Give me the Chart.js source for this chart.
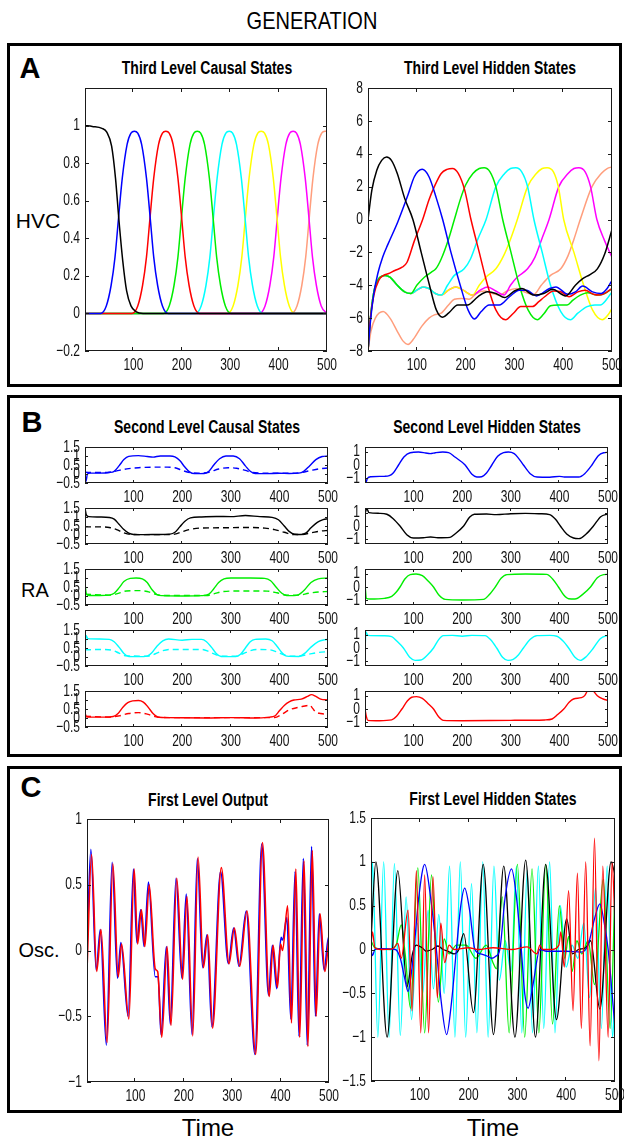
<!DOCTYPE html>
<html>
<head>
<meta charset="utf-8">
<script src="https://cdn.jsdelivr.net/npm/chart.js@4.4.0/dist/chart.umd.min.js"></script>
<style>
  html, body { margin: 0; padding: 0; background: #fff; }
  body { width: 624px; height: 1140px; position: relative; overflow: hidden; font-family: "Liberation Sans", Arial, sans-serif; }
  .panel { position: absolute; border: 3px solid #000; box-sizing: border-box; }
  .txt { position: absolute; white-space: nowrap; color: #000; }
  canvas { position: absolute; }
</style>
</head>
<body>
<div class="panel" style="left:7px;top:43px;width:615px;height:344px"></div>
<div class="panel" style="left:7px;top:395px;width:615px;height:362px"></div>
<div class="panel" style="left:7px;top:766px;width:615px;height:347px"></div>
<script>
// ---- ticks ----
const xTicks = [100, 200, 300, 400, 500];
const xLabels = ['100', '200', '300', '400', '500'];
const causal3YTicks = [-0.2, 0, 0.2, 0.4, 0.6, 0.8, 1, 1.2];
const causal3YLabels = ['−0.2', '0', '0.2', '0.4', '0.6', '0.8', '1', ''];
const hidden3YTicks = [-8, -6, -4, -2, 0, 2, 4, 6, 8];
const hidden3YLabels = ['−8', '−6', '−4', '−2', '0', '2', '4', '6', '8'];
const causal2YTicks = [-0.5, 0, 0.5, 1, 1.5];
const causal2YLabels = ['−0.5', '0', '0.5', '1', '1.5'];
const hidden2YTicks = [-1, 0, 1];
const hidden2YLabels = ['−1', '0', '1'];
const outputYTicks = [-1, -0.5, 0, 0.5, 1];
const outputYLabels = ['−1', '−0.5', '0', '0.5', '1'];
const hidden1YTicks = [-1.5, -1, -0.5, 0, 0.5, 1, 1.5];
const hidden1YLabels = ['−1.5', '−1', '−0.5', '0', '0.5', '1', '1.5'];

// ---- third level causal states [time, value] ----
const causal3Black = [[0,1.0],[15,0.995],[35,0.985],[45,0.965],[55,0.89],[63,0.72],[70,0.5],[78,0.28],[86,0.12],[95,0.04],[105,0.01],[120,0],[500,0]];
const causal3Blue = [[0,0],[32,0],[44,0.04],[54,0.15],[62,0.3],[69,0.5],[77,0.72],[87,0.9],[95,0.96],[102,0.97],[109,0.96],[117,0.9],[127,0.72],[135,0.5],[142,0.3],[150,0.15],[160,0.04],[172,0],[500,0]];
const causal3Red = [[0,0],[97,0],[109,0.04],[119,0.15],[127,0.3],[134,0.5],[142,0.72],[152,0.9],[160,0.96],[167,0.97],[174,0.96],[182,0.9],[192,0.72],[200,0.5],[207,0.3],[215,0.15],[225,0.04],[237,0],[500,0]];
const causal3Green = [[0,0],[162,0],[174,0.04],[184,0.15],[192,0.3],[199,0.5],[207,0.72],[217,0.9],[225,0.96],[232,0.97],[239,0.96],[247,0.9],[257,0.72],[265,0.5],[272,0.3],[280,0.15],[290,0.04],[302,0],[500,0]];
const causal3Cyan = [[0,0],[228,0],[240,0.04],[250,0.15],[258,0.3],[265,0.5],[273,0.72],[283,0.9],[291,0.96],[298,0.97],[305,0.96],[313,0.9],[323,0.72],[331,0.5],[338,0.3],[346,0.15],[356,0.04],[368,0],[500,0]];
const causal3Yellow = [[0,0],[294,0],[306,0.04],[316,0.15],[324,0.3],[331,0.5],[339,0.72],[349,0.9],[357,0.96],[364,0.97],[371,0.96],[379,0.9],[389,0.72],[397,0.5],[404,0.3],[412,0.15],[422,0.04],[434,0],[500,0]];
const causal3Magenta = [[0,0],[360,0],[372,0.04],[382,0.15],[390,0.3],[397,0.5],[405,0.72],[415,0.9],[423,0.96],[430,0.97],[437,0.96],[445,0.9],[455,0.72],[463,0.5],[470,0.3],[478,0.15],[488,0.04],[500,0]];
const causal3Orange = [[0,0],[426,0],[438,0.04],[448,0.15],[456,0.3],[463,0.5],[471,0.72],[481,0.9],[489,0.96],[496,0.97],[500,0.97]];

// ---- third level hidden states ----
const hidden3Black = [[0,0],[8,1.8],[18,3.0],[28,3.6],[38,3.8],[48,3.6],[60,2.8],[75,1.3],[92,0],[109,-2],[126,-4],[140,-5.5],[153,-5.95],[165,-5.7],[184,-5.2],[204,-5.2],[225,-4.7],[245,-4.4],[262,-4.5],[280,-4.75],[300,-4.35],[315,-4.2],[340,-4.6],[360,-4.5],[378,-4.25],[405,-4.65],[425,-4.0],[440,-3.6],[455,-3.35],[470,-3.0],[485,-2.1],[500,-0.6]];
const hidden3Blue = [[0,-8],[5,-6.2],[12,-4.5],[20,-3.3],[30,-2.3],[41,-1.5],[61,-0.15],[82,1.5],[95,2.6],[111,3.05],[125,2.6],[140,1.3],[153,0],[170,-2],[189,-4],[205,-5.5],[218,-6.05],[232,-5.6],[248,-5.2],[269,-5.2],[290,-4.7],[310,-4.3],[325,-4.3],[345,-4.65],[372,-4.2],[385,-4.1],[410,-4.55],[425,-4.4],[440,-4.05],[460,-4.4],[478,-4.5],[490,-4.2],[500,-3.7]];
const hidden3Red = [[0,-8],[5,-6],[12,-4.6],[22,-3.7],[32,-3.4],[41,-3.3],[55,-3.1],[70,-2.9],[80,-2.6],[95,-1.3],[112,0],[125,1.2],[136,2.0],[150,2.8],[162,3.05],[173,3.1],[185,2.8],[198,1.8],[211,0],[228,-2],[245,-4],[262,-5.5],[282,-6.1],[298,-5.7],[313,-5.3],[337,-5.3],[350,-5.0],[362,-4.7],[380,-4.35],[395,-4.4],[412,-4.7],[430,-4.4],[445,-4.3],[462,-4.55],[475,-4.6],[490,-4.4],[500,-4.2]];
const hidden3Green = [[0,-8],[5,-6],[12,-4.4],[22,-3.6],[35,-3.4],[45,-3.5],[60,-4.0],[75,-4.4],[88,-4.5],[100,-4.0],[116,-3.5],[130,-3.2],[139,-3.0],[150,-2.4],[165,-1.2],[177,0],[190,1.3],[200,2.1],[215,2.8],[228,3.1],[238,3.15],[250,2.9],[262,2.0],[276,0],[293,-2],[310,-4],[328,-5.5],[347,-6.1],[360,-5.75],[374,-5.25],[390,-5.2],[408,-5.2],[420,-4.9],[435,-4.6],[450,-4.45],[469,-4.6],[485,-4.5],[500,-4.2]];
const hidden3Cyan = [[0,-8],[5,-6],[12,-4.4],[22,-3.6],[35,-3.4],[45,-3.5],[60,-4.0],[75,-4.4],[88,-4.5],[100,-4.3],[113,-4.1],[125,-4.2],[138,-4.5],[150,-4.6],[163,-4.0],[177,-3.4],[197,-3.0],[210,-2.4],[225,-1.2],[242,0],[262,2],[280,2.8],[292,3.1],[303,3.15],[315,2.9],[327,2.0],[340,0],[357,-2],[374,-4],[395,-5.6],[415,-6.1],[430,-5.7],[449,-5.3],[465,-5.2],[476,-5.2],[488,-4.9],[500,-4.4]];
const hidden3Yellow = [[0,-8],[5,-6],[12,-4.4],[22,-3.6],[35,-3.4],[45,-3.5],[60,-4.0],[75,-4.4],[88,-4.5],[100,-4.3],[113,-4.1],[125,-4.2],[138,-4.5],[150,-4.6],[165,-4.3],[180,-4.1],[195,-4.3],[214,-4.6],[228,-4.0],[242,-3.5],[262,-3.0],[278,-2.2],[292,-1.2],[306,0],[327,2],[345,2.8],[357,3.1],[367,3.15],[380,2.9],[390,2.0],[401,0],[422,-2],[442,-4],[460,-5.5],[480,-6.1],[492,-5.8],[500,-5.4]];
const hidden3Magenta = [[0,-8],[5,-6],[12,-4.4],[22,-3.6],[35,-3.4],[45,-3.5],[60,-4.0],[75,-4.4],[88,-4.5],[100,-4.3],[113,-4.1],[125,-4.2],[138,-4.5],[150,-4.6],[165,-4.3],[180,-4.1],[195,-4.3],[214,-4.6],[230,-4.3],[245,-4.1],[262,-4.35],[279,-4.6],[292,-4.0],[306,-3.5],[327,-3.0],[342,-2.3],[356,-1.2],[371,0],[391,2],[410,2.8],[422,3.1],[432,3.15],[445,2.9],[456,2.0],[469,0],[485,-1.3],[500,-2.3]];
const hidden3Orange = [[0,-8],[6,-6.8],[15,-6.0],[31,-5.6],[45,-6.0],[60,-6.8],[72,-7.4],[82,-7.6],[95,-7.2],[110,-6.5],[125,-6.0],[136,-5.8],[150,-5.7],[165,-5.2],[177,-4.85],[192,-4.8],[207,-4.85],[222,-4.5],[238,-4.35],[255,-4.5],[270,-4.6],[285,-4.35],[305,-4.2],[320,-4.4],[340,-4.55],[355,-4.0],[374,-3.4],[395,-3.0],[410,-2.2],[422,-1.2],[435,0],[459,2],[478,2.8],[490,3.1],[500,3.2]];

// ---- second level causal states (solid + dashed) ----
const causal2Blue = [[0,0.0],[2,-0.4],[5,0.0],[10,0.05],[30,0.05],[50,0.08],[60,0.15],[70,0.45],[80,0.8],[90,0.98],[110,1.02],[128,0.97],[140,0.94],[155,1.0],[175,1.0],[185,0.95],[195,0.75],[205,0.4],[215,0.12],[225,0.02],[245,0.03],[255,0.15],[265,0.5],[277,0.85],[290,1.0],[305,1.0],[318,0.85],[330,0.45],[340,0.15],[350,0.03],[370,0.02],[400,0.04],[420,0.03],[440,0.05],[450,0.15],[462,0.45],[475,0.8],[488,0.97],[500,1.0]];
const causal2BlueDash = [[0,0.1],[20,0.08],[50,0.1],[70,0.2],[90,0.3],[110,0.35],[140,0.38],[170,0.38],[185,0.35],[200,0.2],[215,0.08],[235,0.05],[255,0.1],[275,0.28],[295,0.35],[312,0.32],[330,0.2],[345,0.08],[370,0.05],[420,0.05],[445,0.08],[465,0.2],[485,0.3],[500,0.33]];
const causal2Black = [[0,1.5],[3,1.1],[8,1.02],[30,1.0],[50,0.97],[60,0.88],[70,0.6],[80,0.3],[90,0.1],[100,0.03],[120,0.02],[150,0.03],[175,0.05],[185,0.15],[195,0.45],[205,0.75],[217,0.95],[240,1.0],[270,1.03],[300,1.02],[330,1.08],[360,1.02],[385,0.98],[398,0.85],[410,0.5],[420,0.2],[431,0.04],[445,0.03],[455,0.12],[465,0.4],[478,0.7],[490,0.85],[500,0.9]];
const causal2BlackDash = [[0,0.45],[30,0.45],[50,0.42],[65,0.3],[80,0.12],[95,0.03],[150,0.02],[185,0.05],[200,0.18],[215,0.3],[235,0.38],[280,0.4],[330,0.42],[370,0.38],[390,0.3],[410,0.15],[428,0.03],[445,0.03],[465,0.12],[485,0.22],[500,0.25]];
const causal2Green = [[0,0.7],[3,0.1],[8,0.03],[30,0.03],[50,0.05],[60,0.15],[70,0.45],[80,0.8],[93,0.98],[105,1.0],[118,0.95],[128,0.75],[138,0.35],[148,0.08],[160,0.02],[200,0.0],[240,0.02],[255,0.1],[265,0.4],[275,0.75],[286,0.95],[300,1.0],[340,1.0],[370,0.98],[382,0.85],[393,0.5],[405,0.15],[415,0.03],[430,0.02],[440,0.08],[452,0.35],[465,0.75],[480,0.95],[500,1.0]];
const causal2GreenDash = [[0,0.1],[50,0.05],[65,0.12],[85,0.28],[110,0.3],[128,0.25],[145,0.1],[160,0.03],[250,0.03],[265,0.12],[285,0.25],[330,0.28],[375,0.27],[395,0.18],[415,0.05],[440,0.05],[460,0.15],[480,0.22],[500,0.25]];
const causal2Cyan = [[0,0.0],[2,1.2],[6,1.02],[30,1.0],[50,0.98],[60,0.85],[70,0.55],[80,0.2],[90,0.03],[110,0.02],[128,0.05],[138,0.25],[148,0.6],[160,0.9],[172,1.0],[200,0.93],[220,0.98],[240,0.98],[250,0.85],[260,0.55],[270,0.2],[280,0.03],[310,0.02],[320,0.15],[330,0.5],[340,0.85],[350,0.98],[372,1.0],[385,0.9],[395,0.6],[405,0.25],[415,0.05],[440,0.03],[452,0.2],[465,0.55],[480,0.85],[492,0.95],[500,0.98]];
const causal2CyanDash = [[0,0.4],[40,0.42],[55,0.38],[70,0.22],[85,0.06],[130,0.05],[145,0.18],[160,0.35],[175,0.42],[240,0.42],[255,0.3],[270,0.12],[285,0.04],[310,0.05],[325,0.18],[340,0.35],[355,0.42],[380,0.4],[395,0.28],[410,0.12],[425,0.04],[440,0.05],[460,0.15],[480,0.25],[500,0.3]];
const causal2Red = [[0,0.3],[3,0.06],[10,0.05],[40,0.05],[58,0.08],[68,0.25],[78,0.6],[88,0.85],[98,0.95],[110,0.97],[120,0.88],[130,0.6],[140,0.25],[152,0.04],[170,0.02],[250,0.0],[300,0.02],[350,0.0],[380,0.05],[390,0.1],[400,0.4],[410,0.7],[420,0.9],[430,1.0],[445,1.05],[458,1.2],[466,1.3],[475,1.2],[485,1.05],[500,1.0]];
const causal2RedDash = [[0,0.1],[50,0.05],[70,0.12],[90,0.25],[110,0.3],[130,0.2],[150,0.04],[200,0.02],[390,0.02],[405,0.2],[420,0.45],[440,0.6],[455,0.68],[462,0.72],[468,0.55],[474,0.35],[485,0.25],[500,0.2]];

// ---- second level hidden states ----
const hidden2Blue = [[0,-0.9],[2,-1.3],[5,-1.0],[12,-0.88],[40,-0.85],[50,-0.8],[58,-0.6],[69,0],[80,0.6],[93,0.92],[110,0.97],[125,0.9],[134,0.85],[145,0.92],[160,0.97],[172,0.93],[185,0.6],[206,0],[220,-0.7],[230,-0.9],[240,-0.88],[250,-0.6],[261,0],[273,0.65],[285,0.93],[295,0.97],[307,0.85],[316,0.5],[326,0],[340,-0.65],[354,-0.9],[380,-0.92],[400,-0.85],[410,-0.9],[440,-0.9],[452,-0.65],[467,0],[480,0.7],[491,0.92],[500,0.95]];
const hidden2Black = [[0,0.95],[4,1.3],[8,1.0],[30,0.95],[45,0.88],[58,0.55],[72,0],[86,-0.65],[100,-0.9],[120,-0.88],[135,-0.82],[150,-0.88],[175,-0.85],[185,-0.6],[203,0],[215,0.65],[225,0.88],[250,0.9],[270,0.85],[300,0.92],[330,0.95],[360,0.92],[380,0.85],[392,0.5],[402,0],[415,-0.6],[429,-0.9],[440,-0.95],[455,-0.6],[470,0],[485,0.7],[500,0.9]];
const hidden2Green = [[0,0.2],[3,-0.85],[10,-0.9],[40,-0.85],[55,-0.7],[64,-0.4],[72,0],[82,0.6],[93,0.93],[105,0.97],[118,0.85],[130,0.45],[141,0],[152,-0.6],[165,-0.93],[200,-0.97],[244,-0.93],[255,-0.6],[268,0],[280,0.65],[292,0.93],[330,0.97],[374,0.95],[386,0.6],[398,0],[409,-0.6],[419,-0.88],[432,-0.9],[448,-0.55],[464,0],[478,0.7],[491,0.93],[500,0.95]];
const hidden2Cyan = [[0,-0.2],[2,1.2],[6,0.95],[40,0.92],[55,0.85],[66,0.5],[79,0],[92,-0.7],[103,-0.93],[115,-0.9],[128,-0.55],[141,0],[152,0.65],[161,0.93],[180,0.95],[200,0.88],[220,0.95],[247,0.93],[259,0.6],[271,0],[283,-0.7],[294,-0.93],[305,-0.85],[316,-0.5],[326,0],[340,0.65],[354,0.93],[380,0.95],[395,0.88],[408,0.5],[419,0],[432,-0.7],[443,-0.93],[455,-0.65],[470,0],[484,0.7],[498,0.93],[500,0.94]];
const hidden2Red = [[0,0],[3,-0.6],[6,-0.85],[30,-0.88],[55,-0.82],[65,-0.55],[76,0],[87,0.6],[96,0.88],[106,0.93],[118,0.8],[130,0.4],[141,0],[152,-0.6],[161,-0.85],[200,-0.88],[300,-0.85],[370,-0.82],[385,-0.75],[397,-0.4],[409,0],[420,0.5],[429,0.75],[445,0.85],[452,1.0],[458,1.4],[463,1.65],[469,1.4],[478,1.0],[490,0.75],[500,0.65]];

// ---- first level output ----
const outputBlue = [[0,0.0],[8,0.77],[19,-0.15],[27.5,0.16],[40,-0.72],[52,0.67],[63,-0.21],[70,0.06],[85,-0.5],[96,0.62],[103,0.06],[111,0.31],[118,0.03],[127,0.52],[141,-0.2],[147,-0.2],[153,-0.64],[164,0.03],[172,-0.56],[184,0.55],[196,-0.21],[205,0.43],[217,-0.64],[228,0.7],[239,-0.13],[248,0.12],[258,-0.58],[276,0.6],[292,-0.1],[303,0.17],[314,-0.12],[329,0.3],[347,-0.79],[361,0.81],[375,-0.34],[383,0.04],[392,-0.29],[401,0.1],[404,0.08],[413,0.25],[421,-0.52],[430,0.6],[438,-0.65],[447,0.7],[455,-0.72],[464,0.79],[472,-0.5],[480,0.28],[490,-0.15],[499,0.1],[500,0.08]];
const outputRed = [[0,-0.15],[9.5,0.73],[20,-0.16],[29,0.16],[41.5,-0.7],[53.5,0.66],[64.5,-0.2],[71.5,0.05],[86.5,-0.52],[97.5,0.62],[104.5,0.05],[112.5,0.31],[119.5,0.03],[128.5,0.5],[141,-0.14],[146,-0.16],[154.5,-0.66],[165.5,0.03],[173.5,-0.57],[185.5,0.55],[197.5,-0.22],[206.5,0.41],[218.5,-0.65],[229.5,0.71],[240.5,-0.13],[249.5,0.12],[259.5,-0.59],[277.5,0.63],[293.5,-0.1],[304.5,0.17],[315.5,-0.12],[330.5,0.3],[348.5,-0.79],[362.5,0.82],[376.5,-0.35],[384.5,0.04],[393.5,-0.28],[400,0.05],[404,0.0],[414.5,0.34],[422.5,-0.55],[431.5,0.62],[439.5,-0.66],[448.5,0.68],[456.5,-0.73],[465.5,0.76],[473.5,-0.5],[481.5,0.28],[491.5,-0.16],[500,0.1]];

// ---- first level hidden states ----
const hidden1Cyan = [[0,0.1],[3,1.0],[14,-1.0],[26,1.0],[37,-1.0],[48,0.98],[60,-0.98],[72,0.6],[83,-0.8],[95,0.3],[106,-0.5],[117,0.45],[128,-0.45],[139,0.4],[150,-0.5],[161,0.95],[172,-1.0],[183,1.0],[194,-1.0],[206,0.75],[217,-0.95],[229,1.0],[240,-1.0],[252,0.95],[263,-0.35],[275,0.1],[287,-0.25],[298,0.95],[309,-0.95],[320,0.9],[331,-0.95],[343,0.95],[354,-0.9],[366,1.0],[377,-0.95],[388,0.5],[400,-0.2],[412,0.05],[424,-0.1],[436,0.3],[448,-0.55],[460,0.7],[472,-0.9],[484,0.95],[495,-1.0],[500,-0.5]];
const hidden1Black = [[0,0.1],[10,1.0],[33,-1.0],[55,0.9],[74,-0.42],[85,-0.05],[93,0.05],[105,0.02],[113,-0.02],[125,0.0],[137,0.04],[148,0.0],[158,-0.02],[170,-0.05],[180,0.0],[190,0.18],[210,-0.72],[230,0.97],[251,-0.97],[272,0.95],[295,-1.0],[317,1.02],[337,-1.0],[358,0.97],[380,-0.8],[401,0.35],[413,-0.05],[425,0.0],[440,0.02],[450,0.1],[469,-0.68],[492,1.0],[500,0.85]];
const hidden1Green = [[0,0.1],[8,0.02],[40,0.0],[52,0.06],[62,0.28],[70,-0.05],[81,-0.67],[96,0.93],[110,-0.95],[124,0.85],[138,-0.6],[150,0.12],[160,-0.05],[175,0.05],[195,0.05],[215,-0.1],[236,0.05],[250,-0.15],[257,-0.22],[269,0.6],[283,-0.95],[300,0.97],[315,-1.0],[330,0.92],[344,-0.95],[358,0.97],[372,-0.85],[386,0.5],[397,-0.1],[405,0.15],[412,-0.25],[422,0.1],[432,-0.05],[445,0.1],[458,-0.4],[476,0.8],[490,-0.9],[500,0.7]];
const hidden1Red = [[0,0.05],[3,0.2],[8,0.02],[20,0.0],[45,0.01],[55,0.07],[62,-0.1],[76,0.45],[84,-0.7],[93,0.9],[102,-0.95],[110,0.85],[118,-0.95],[127,0.83],[136,-0.55],[143,0.3],[151,-0.15],[160,0.05],[170,0.0],[200,0.02],[220,0.0],[250,0.02],[290,0.0],[320,0.03],[340,-0.05],[346,0.05],[352,0.0],[370,0.0],[385,0.05],[389,0.2],[396,-0.2],[405,0.67],[414,-0.7],[423,0.87],[431,-0.9],[440,1.0],[449,-1.1],[458,1.27],[467,-1.27],[475,0.95],[486,-1.0],[494,1.0],[500,0.3]];
const hidden1Blue = [[0,0.0],[3,-0.07],[8,0.0],[20,0.01],[50,0.0],[60,-0.1],[68,-0.3],[76,-0.48],[82,-0.3],[88,0],[98,0.6],[110,0.97],[122,0.6],[134,0],[144,-0.6],[155,-0.97],[165,-0.6],[175,0],[184,0.5],[192,0.7],[202,0.45],[213,0],[225,-0.05],[240,-0.08],[247,-0.1],[255,-0.08],[264,0],[275,0.6],[288,0.92],[298,0.6],[308,0],[315,-0.5],[322,-0.67],[332,-0.4],[346,0],[360,-0.02],[400,-0.02],[430,-0.03],[445,0.05],[458,0.35],[469,0.52],[478,0.3],[486,0],[494,-0.5],[500,-0.9]];

const COLORS = {
  black: '#000000', blue: '#0000ff', red: '#ff0000', green: '#00ee00',
  cyan: '#00ffff', yellow: '#ffff00', magenta: '#ff00ff', orange: '#ff9e7d'
};

const PAD = { l: 46, r: 16, t: 8, b: 26 };
const TICK_FONT = '12px "Liberation Sans", Arial, sans-serif';
const TICK_STRETCH = 1.4;

// matlab-like boxed axes: frame, inward ticks on all four sides, stretched labels
const matlabAxes = {
  id: 'matlabAxes',
  afterDatasetsDraw(chart, args, opts) {
    const { ctx, chartArea: a } = chart;
    const xs = chart.scales.x, ys = chart.scales.y;
    ctx.save();
    ctx.strokeStyle = '#1a1a1a';
    ctx.lineWidth = 1;
    ctx.strokeRect(a.left + 0.5, a.top + 0.5, a.right - a.left - 1, a.bottom - a.top - 1);
    ctx.beginPath();
    const tl = opts.tickLen;
    opts.xTicks.forEach(v => {
      const px = Math.round(xs.getPixelForValue(v)) - 0.5;
      ctx.moveTo(px, a.bottom); ctx.lineTo(px, a.bottom - tl);
      ctx.moveTo(px, a.top); ctx.lineTo(px, a.top + tl);
    });
    opts.yTicks.forEach(v => {
      const py = Math.round(ys.getPixelForValue(v)) + 0.5;
      ctx.moveTo(a.left, py); ctx.lineTo(a.left + tl, py);
      ctx.moveTo(a.right, py); ctx.lineTo(a.right - tl, py);
    });
    ctx.stroke();

    ctx.fillStyle = '#111';
    ctx.font = TICK_FONT;
    ctx.textBaseline = 'middle';
    ctx.textAlign = 'center';
    opts.xTicks.forEach((v, i) => {
      ctx.save();
      ctx.translate(xs.getPixelForValue(v), a.bottom + 14.5);
      ctx.scale(1, TICK_STRETCH);
      ctx.fillText(opts.xLabels[i], 0, 0);
      ctx.restore();
    });
    ctx.textAlign = 'right';
    opts.yTicks.forEach((v, i) => {
      ctx.save();
      ctx.translate(a.left - 5, ys.getPixelForValue(v));
      ctx.scale(1, TICK_STRETCH);
      ctx.fillText(opts.yLabels[i], 0, 0);
      ctx.restore();
    });
    ctx.restore();
  }
};

function addText(str, cx, cy, font, stretch) {
  const d = document.createElement('div');
  d.className = 'txt';
  d.textContent = str;
  d.style.font = font;
  d.style.left = cx + 'px';
  d.style.top = cy + 'px';
  d.style.transform = 'translate(-50%, -50%) scale(1, ' + stretch + ')';
  document.body.appendChild(d);
}

function plot(box, yMin, yMax, yTicks, yLabels, series, tickLen) {
  const w = box.right - box.left, h = box.bottom - box.top;
  const c = document.createElement('canvas');
  c.width = w + PAD.l + PAD.r;
  c.height = h + PAD.t + PAD.b;
  c.style.left = (box.left - PAD.l) + 'px';
  c.style.top = (box.top - PAD.t) + 'px';
  document.body.appendChild(c);
  new Chart(c, {
    type: 'line',
    data: {
      datasets: series.map(s => ({
        data: s.pts.map(p => ({ x: p[0], y: p[1] })),
        borderColor: s.color,
        borderWidth: s.width || 1.5,
        borderDash: s.dash || [],
        pointRadius: 0,
        cubicInterpolationMode: 'monotone',
        fill: false
      }))
    },
    options: {
      responsive: false,
      animation: false,
      events: [],
      layout: { padding: { left: PAD.l, right: PAD.r, top: PAD.t, bottom: PAD.b } },
      plugins: {
        legend: { display: false },
        tooltip: { enabled: false },
        matlabAxes: { xTicks, xLabels, yTicks, yLabels, tickLen: tickLen || 4 }
      },
      scales: {
        x: { type: 'linear', display: false, min: 0, max: 500 },
        y: { type: 'linear', display: false, min: yMin, max: yMax }
      }
    },
    plugins: [matlabAxes]
  });
}

// ---- text ----
const TITLE_FONT = 'bold 14px "Liberation Sans", Arial, sans-serif';
addText('GENERATION', 312, 21, '20px "Liberation Sans", Arial, sans-serif', 1.2);
addText('A', 30, 68, 'bold 29px "Liberation Sans", Arial, sans-serif', 1);
addText('B', 32, 422, 'bold 29px "Liberation Sans", Arial, sans-serif', 1);
addText('C', 31, 787, 'bold 29px "Liberation Sans", Arial, sans-serif', 1);
addText('HVC', 38, 221, '21px "Liberation Sans", Arial, sans-serif', 1);
addText('RA', 35, 590, '20px "Liberation Sans", Arial, sans-serif', 1);
addText('Osc.', 39, 950, '20px "Liberation Sans", Arial, sans-serif', 1);
addText('Time', 208, 1128, '24px "Liberation Sans", Arial, sans-serif', 1);
addText('Time', 493, 1128, '24px "Liberation Sans", Arial, sans-serif', 1);
addText('Third Level Causal States', 207, 67, TITLE_FONT, 1.35);
addText('Third Level Hidden States', 490, 67, TITLE_FONT, 1.35);
addText('Second Level Causal States', 207, 426, TITLE_FONT, 1.35);
addText('Second Level Hidden States', 487, 426, TITLE_FONT, 1.35);
addText('First Level Output', 208, 799, TITLE_FONT, 1.35);
addText('First Level Hidden States', 493, 798, TITLE_FONT, 1.35);

// ---- panel A ----
plot({ left: 85, top: 88, right: 327, bottom: 351 }, -0.2, 1.2, causal3YTicks, causal3YLabels, [
  { pts: causal3Black, color: COLORS.black },
  { pts: causal3Blue, color: COLORS.blue },
  { pts: causal3Red, color: COLORS.red },
  { pts: causal3Green, color: COLORS.green },
  { pts: causal3Cyan, color: COLORS.cyan },
  { pts: causal3Yellow, color: COLORS.yellow },
  { pts: causal3Magenta, color: COLORS.magenta },
  { pts: causal3Orange, color: COLORS.orange }
]);
plot({ left: 368, top: 88, right: 612, bottom: 351 }, -8, 8, hidden3YTicks, hidden3YLabels, [
  { pts: hidden3Black, color: COLORS.black },
  { pts: hidden3Blue, color: COLORS.blue },
  { pts: hidden3Red, color: COLORS.red },
  { pts: hidden3Green, color: COLORS.green },
  { pts: hidden3Cyan, color: COLORS.cyan },
  { pts: hidden3Yellow, color: COLORS.yellow },
  { pts: hidden3Magenta, color: COLORS.magenta },
  { pts: hidden3Orange, color: COLORS.orange }
]);

// ---- panel B ----
const rowTops = [447, 508, 569, 630, 691];
const causal2Rows = [
  [causal2Blue, causal2BlueDash, COLORS.blue],
  [causal2Black, causal2BlackDash, COLORS.black],
  [causal2Green, causal2GreenDash, COLORS.green],
  [causal2Cyan, causal2CyanDash, COLORS.cyan],
  [causal2Red, causal2RedDash, COLORS.red]
];
const hidden2Rows = [
  [hidden2Blue, COLORS.blue],
  [hidden2Black, COLORS.black],
  [hidden2Green, COLORS.green],
  [hidden2Cyan, COLORS.cyan],
  [hidden2Red, COLORS.red]
];
rowTops.forEach((top, i) => {
  const [solid, dashed, col] = causal2Rows[i];
  plot({ left: 85, top: top, right: 328, bottom: top + 36 }, -0.5, 1.5, causal2YTicks, causal2YLabels, [
    { pts: solid, color: col, width: 1.4 },
    { pts: dashed, color: col, width: 1.4, dash: [6, 4] }
  ], 3);
  plot({ left: 365, top: top, right: 608, bottom: top + 36 }, -1.35, 1.35, hidden2YTicks, hidden2YLabels, [
    { pts: hidden2Rows[i][0], color: hidden2Rows[i][1], width: 1.4 }
  ], 3);
});

// ---- panel C ----
plot({ left: 87, top: 819, right: 329, bottom: 1082 }, -1, 1, outputYTicks, outputYLabels, [
  { pts: outputRed, color: COLORS.red, width: 1.6 },
  { pts: outputBlue, color: COLORS.blue, width: 1.6 }
]);
plot({ left: 371, top: 818, right: 615, bottom: 1081 }, -1.5, 1.5, hidden1YTicks, hidden1YLabels, [
  { pts: hidden1Red, color: COLORS.red, width: 1.3 },
  { pts: hidden1Blue, color: COLORS.blue, width: 1.3 },
  { pts: hidden1Black, color: COLORS.black, width: 1.3 },
  { pts: hidden1Green, color: COLORS.green, width: 1.3 },
  { pts: hidden1Cyan, color: COLORS.cyan, width: 1.3 }
]);
</script>
</body>
</html>
